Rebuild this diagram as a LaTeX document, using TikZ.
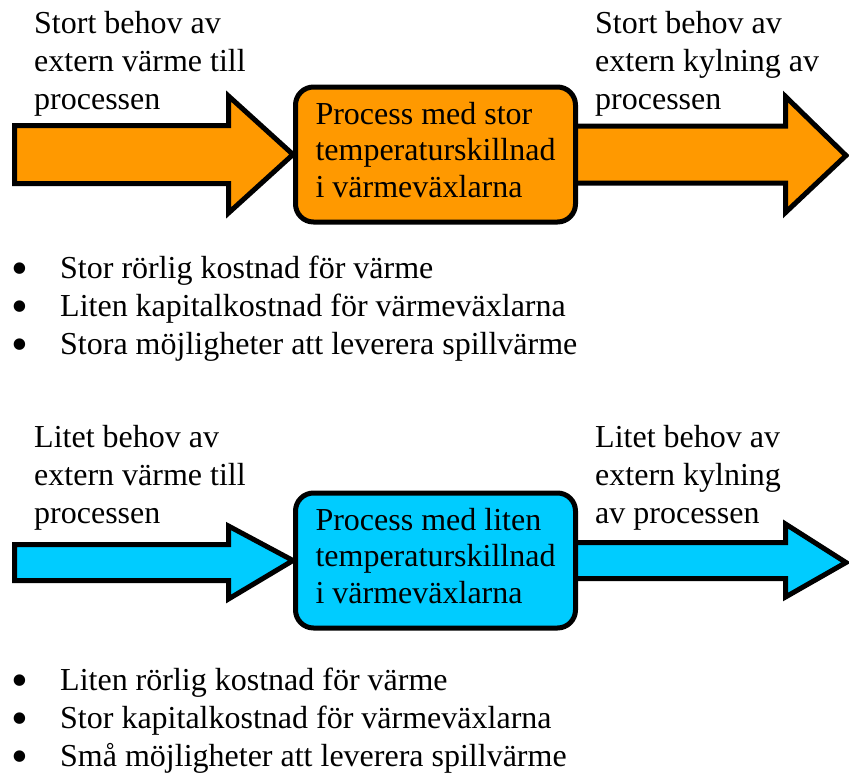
\documentclass[tikz,border=0pt]{standalone}
\usepackage{fontspec}
\setmainfont{Liberation Serif}
\usetikzlibrary{calc,backgrounds}

\definecolor{heatorange}{HTML}{FF9900}
\definecolor{coolcyan}{HTML}{00CCFF}

% fat block arrow from #2 to #3: half body, half head, head length
\newcommand{\fatarrow}[6][]{%
  \draw[fatline, #1] let \p1=(#2), \p2=(#3) in
    (\x1,\y1+#4pt) -- (\x2-#6pt,\y1+#4pt) -- (\x2-#6pt,\y1+#5pt) -- (\x2,\y2)
    -- (\x2-#6pt,\y1-#5pt) -- (\x2-#6pt,\y1-#4pt) -- (\x1,\y1-#4pt) -- cycle;}
\newcommand{\blt}{\makebox[49pt][l]{\smash{\raisebox{-6pt}{\scalebox{1.5}{\textbullet}}}}}

\begin{document}
\begin{tikzpicture}[
  x=1pt, y=-1pt,
  font=\fontsize{32}{38}\selectfont,
  fatline/.style={draw=black, line width=5pt, miter limit=20},
  procbox/.style={draw=black, line width=5pt, rounded corners=18pt, align=left,
                  minimum width=280pt, minimum height=135pt, inner sep=0pt,
                  text depth=10pt, font=\fontsize{32}{36.5}\selectfont},
  label/.style={align=left, anchor=base west, inner sep=0pt},
  bullets/.style={align=left, anchor=base west, inner sep=0pt},
]
\useasboundingbox (0,0) rectangle (849,772);

% ---------------- large temperature difference -----------------
\node[procbox, fill=heatorange] (hotproc) at (435.5,154.5)
  {Process med stor\\temperaturskillnad\\i värmeväxlarna};
\coordinate (hotin) at (14.5,154.5);
\coordinate (hotout) at (846,155.5);
\begin{scope}[on background layer]
  \fatarrow[fill=heatorange]{hotin}{hotproc.west}{29}{58.5}{64.5}
  \fatarrow[fill=heatorange]{hotproc.center}{hotout}{28.5}{58}{60.5}
\end{scope}
\node[label] (hotheat) at (34,109) {Stort behov av\\extern värme till\\processen};
\node[label] (hotcool) at (595,109) {Stort behov av\\extern kylning av\\processen};
\node[bullets] (hotlist) at (11,354)
  {\blt Stor rörlig kostnad för värme\\
   \blt Liten kapitalkostnad för värmeväxlarna\\
   \blt Stora möjligheter att leverera spillvärme};

% ---------------- small temperature difference -----------------
\node[procbox, fill=coolcyan] (coldproc) at (435.5,560.5)
  {Process med liten\\temperaturskillnad\\i värmeväxlarna};
\coordinate (coldin) at (14.5,562.5);
\coordinate (coldout) at (846,562.5);
\begin{scope}[on background layer]
  \fatarrow[fill=coolcyan]{coldin}{coldproc.west}{18}{36.5}{64.5}
  \fatarrow[fill=coolcyan]{coldproc.center}{coldout}{18}{36.5}{60.5}
\end{scope}
\node[label] (coldheat) at (34,523) {Litet behov av\\extern värme till\\processen};
\node[label] (coldcool) at (595,523) {Litet behov av\\extern kylning\\av processen};
\node[bullets] (coldlist) at (11,766)
  {\blt Liten rörlig kostnad för värme\\
   \blt Stor kapitalkostnad för värmeväxlarna\\
   \blt Små möjligheter att leverera spillvärme};
\end{tikzpicture}
\end{document}
